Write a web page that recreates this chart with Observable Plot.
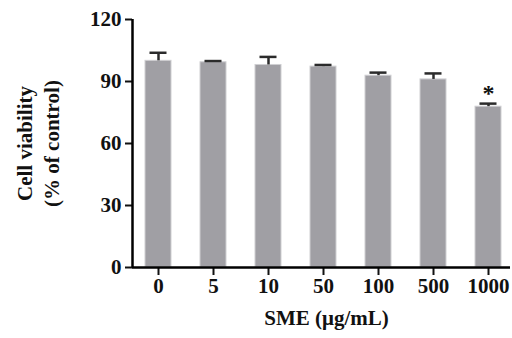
<!DOCTYPE html>
<html><head><meta charset="utf-8">
<script src="https://cdn.jsdelivr.net/npm/d3@7"></script>
<script src="https://cdn.jsdelivr.net/npm/@observablehq/plot@0.6"></script>
<style>body{margin:0;background:#fff}</style>
</head><body><div id="chart"></div>
<script>
const doses = ["0","5","10","50","100","500","1000"];
const viability = [100, 99.3, 98, 97.2, 92.8, 91, 77.8];
const sd = [3.9, 0.6, 3.9, 0.8, 1.5, 2.9, 1.5];
const marks = ["", "", "", "", "", "", "*"];
const yTicks = [0, 30, 60, 90, 120];

const data = doses.map((d, i) => ({dose: d, v: viability[i], sd: sd[i], hi: viability[i] + sd[i], mark: marks[i]}));
const font = "'Liberation Serif', 'Times New Roman', serif";

const chart = Plot.plot({
  width: 512, height: 338,
  marginTop: 19, marginBottom: 71, marginLeft: 132, marginRight: 2,
  style: {fontFamily: font, fontWeight: "bold", fontSize: "21px", color: "#111", background: "#fff"},
  x: {domain: doses, range: [132, 514], paddingInner: 0.527, paddingOuter: 0.236, label: null},
  y: {domain: [0, 120], label: null},
  marks: [
    Plot.barY(data, {x: "dose", y: "v", fill: "#a09fa4", stroke: "#cfcfd2", strokeWidth: 1}),
    Plot.ruleX(data, {x: "dose", y1: "v", y2: "hi", stroke: "#2b2b2b", strokeWidth: 2.5}),
    Plot.tickY(data, {x: "dose", y: "hi", stroke: "#2b2b2b", strokeWidth: 2.5, inset: 4.5}),
    Plot.text(data, {x: "dose", y: d => d.hi + 7.5, text: "mark", fontSize: 24, dy: 5}),
    Plot.axisY({ticks: yTicks, tickSize: 7, tickPadding: 4, strokeWidth: 2, fontSize: 21, tickFormat: d => String(d), label: null}),
    Plot.axisX({tickSize: 8, tickPadding: 3, strokeWidth: 2, fontSize: 21, label: null}),
    Plot.ruleY([0], {stroke: "#000", strokeWidth: 2.5}),
    Plot.ruleX([doses[0]], {dx: -26, y1: 0, y2: 120, stroke: "#000", strokeWidth: 2.5}),
    Plot.text(["Cell viability\n(% of control)"], {frameAnchor: "left", textAnchor: "middle", dx: -96, rotate: -90, lineHeight: 1.3, fontSize: 21, text: d => d}),
    Plot.text(["SME (μg/mL)"], {frameAnchor: "bottom", dx: 5, dy: 57, fontSize: 21, text: d => d})
  ]
});
document.getElementById("chart").appendChild(chart);
</script>
</body></html>
